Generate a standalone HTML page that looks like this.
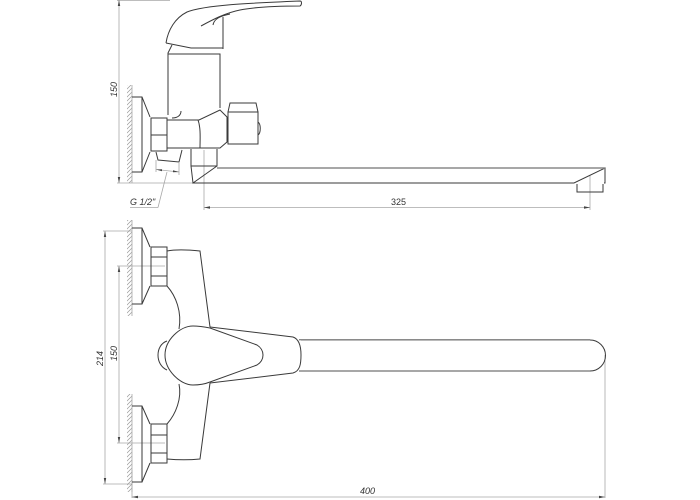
<!DOCTYPE html>
<html>
<head>
<meta charset="utf-8">
<style>
html,body{margin:0;padding:0;background:#fff;width:700px;height:500px;overflow:hidden}
svg{display:block}
text{font-family:"Liberation Sans",sans-serif;font-style:italic;font-size:9px;fill:#333}
.o{fill:none;stroke:#3a3a3a;stroke-width:1}
.g{fill:none;stroke:#8a8a8a;stroke-width:1.4}
.d{fill:none;stroke:#a8a8a8;stroke-width:.8}
.h{fill:url(#hatch);stroke:none}
.a{fill:#444}
</style>
</head>
<body>
<svg width="700" height="500" viewBox="0 0 700 500" xmlns="http://www.w3.org/2000/svg">
<defs>
<pattern id="hatch" width="4" height="4" patternUnits="userSpaceOnUse">
<path d="M-1 5L5 -1M-1 1L1 -1M3 5L5 3" stroke="#999" stroke-width=".7" fill="none"/>
</pattern>
</defs>

<!-- dimension lines -->
<g class="d">
<path d="M119 0V183M117 .5H170M117 183H193"/>
<path d="M204 150V210M590 175V210M204 207.500H590"/>
<path d="M158 207.500H130M158 207.500L167 172"/>
<path d="M156 160V172M179 163V175M156 169.500L179 172"/>
<path d="M105 231V484M103 231H132M103 484H132"/>
<path d="M119 266V443M117 266H165M117 443H165"/>
<path d="M132 470V498M605 355V498M132 497H605"/>
</g>
<g class="a">
<path d="M119 0l-1.200 6h2.400zM119 183l-1.200 -6h2.400z"/>
<path d="M204 207.500l6 -1.200v2.400zM590 207.500l-6 -1.200v2.400z"/>
<path d="M156 169.500l6 -.2v2zM179 172l-6 -1.800v2z"/>
<path d="M105 231l-1.200 6h2.400zM105 484l-1.200 -6h2.400z"/>
<path d="M119 266l-1.200 6h2.400zM119 443l-1.200 -6h2.400z"/>
<path d="M132 497l6 -1.200v2.400zM605 497l-6 -1.200v2.400z"/>
</g>

<!-- walls -->
<rect class="h" x="127" y="85" width="5" height="98"/>
<rect class="h" x="127" y="220" width="5" height="96"/>
<rect class="h" x="127" y="394" width="5" height="98"/>
<path class="d" d="M132 85V183M132 220V316M132 394V492"/>

<!-- side view -->
<g class="o">
<path d="M166 43C168 30 175 18 187 12C205 5 250 3 300 1C302 1 302 5 300 6C275 6 255 7 240 10C225 13 212 20 201 26"/>
<path d="M213 25C214 19 220 16 230 14M223 17V49M166 43L191 48H223"/>
<path d="M172 45L168 53V115M168 54H220V108M172 118C178 118 181 115 181 111"/>
<path d="M132 97H142L150 117M142 97V172M150 152L142 172H132"/>
<rect x="151" y="118" width="16" height="33"/>
<path d="M151 135H167"/>
<path d="M167 120H199L220 110L227 117V142L220 148H167"/>
<path d="M198 120C201 128 200 140 200 148"/>
<path d="M228 112H258V144H228ZM228 112L230 103H256L258 112"/>
<path d="M258 122C261 124 261 133 258 135"/>
<path d="M156 152L158 160L179 162L182 150"/>
<path d="M191 149V166H217V149M191 166L193 183L217 166"/>
<path d="M193 183H574L605 168V183H604M577 184V192H603V184"/>
</g>
<path class="g" d="M217 168H605"/>

<!-- top view -->
<g class="o">
<path d="M132 228H142L150 247M142 228V304H132M150 286L142 304"/>
<rect x="151" y="247" width="16" height="39"/>
<path d="M151 257H167M151 276H167"/>
<path d="M132 406H142L150 424M142 406V482H132M150 463L142 482"/>
<rect x="151" y="424" width="16" height="39"/>
<path d="M151 435H167M151 453H167"/>
<path d="M167 251C178 249 190 250 200 251L210 327"/>
<path d="M167 459C178 460 190 460 200 459L210 383"/>
<path d="M167 286C176 296 182 312 179 329"/>
<path d="M167 424C176 414 182 398 179 384"/>
<path d="M165 355C165 340 180 326 193 326C200 326 205 327 210 328L257 345C265 350 265 360 257 365L210 382C205 384 200 385 193 385C180 385 165 370 165 355Z"/>
<path d="M167 341C155 345 155 365 167 370"/>
<path d="M210 327L293 337C299 339 301 346 301 355C301 364 300 371 293 373L210 383"/>
<path d="M301 371H590A15.500 15.500 0 0 0 590 340H301"/>
</g>
<path class="g" d="M299 339.700H590M299 371H590"/>

<!-- labels -->
<text x="130" y="205">G 1/2"</text>
<text x="391" y="205" style="font-style:normal">325</text>
<text x="360" y="494">400</text>
<text transform="translate(117,97) rotate(-90)">150</text>
<text transform="translate(103,366) rotate(-90)">214</text>
<text transform="translate(117,361) rotate(-90)">150</text>
</svg>
</body>
</html>
